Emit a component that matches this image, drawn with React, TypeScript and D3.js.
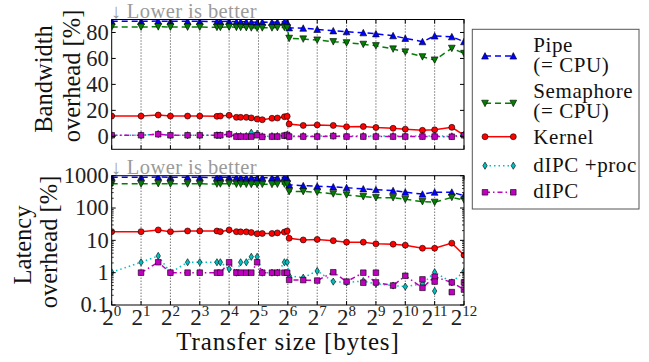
import React from "react";
import * as d3 from "d3";

// transfer sizes in bytes (x axis, log2)
const sizes = [1, 2, 3, 4, 6, 8, 12, 13, 16, 19, 21, 24, 27, 31, 35, 44, 50, 59, 63, 66, 92, 128, 187, 256, 380, 512, 768, 1024, 1536, 2048, 3072, 4096];

// bandwidth overhead [%]
const pipeBw = [88.6, 88.6, 88.8, 88.6, 88.6, 88.6, 88.4, 88.4, 88.6, 88.2, 88.2, 88.2, 88.0, 87.8, 88.0, 87.8, 88.0, 88.2, 87.8, 83.6, 83.3, 82.4, 81.3, 80.6, 79.8, 79.0, 77.5, 75.5, 72.9, 77.3, 76.7, 72.9];
const semBw = [84.2, 84.2, 84.4, 84.2, 84.2, 84.2, 84.0, 84.0, 84.2, 84.0, 84.0, 83.8, 83.6, 83.4, 83.6, 83.6, 83.8, 84.0, 83.6, 75.5, 75.0, 74.2, 72.9, 72.1, 70.9, 69.8, 67.3, 65.0, 61.3, 58.8, 67.8, 63.9];
const kernelBw = [15.6, 15.6, 16.4, 15.6, 15.6, 15.6, 15.4, 15.6, 16.2, 14.6, 14.6, 14.6, 14.2, 13.3, 12.8, 13.9, 14.1, 15.1, 15.4, 9.5, 8.4, 8.8, 8.4, 7.4, 7.5, 6.8, 6.2, 5.5, 4.6, 5.0, 6.9, 1.0];
const procBw = [0.8, 0.8, 1.8, 0.8, 0.8, 0.8, 0.8, 0.8, 1.8, 0.2, 0.2, 0.2, 2.8, 2.0, 0.0, 0.2, 0.2, 0.6, 1.2, 0.2, 0.2, 0.2, 0.4, 0.2, 0.2, 0.2, 0.2, 0.2, 0.2, 0.4, 0.0, 1.2];
const dipcBw = [0.8, 0.8, 1.6, 0.8, 0.8, 0.8, 0.8, 0.8, 1.6, -0.2, -0.2, -0.2, -0.2, 0.8, -0.4, -0.2, -0.2, 0.5, 1.0, -0.2, -0.2, -0.2, 0.2, -0.2, -0.2, -0.2, -0.2, -0.2, -0.2, -0.2, -0.3, 0.8];

// latency overhead [%]
const pipeLat = [900, 890, 910, 890, 900, 890, 880, 890, 900, 880, 880, 870, 870, 860, 870, 860, 870, 880, 830, 520, 490, 473, 450, 426, 390, 370, 345, 309, 269, 309, 309, 240];
const semLat = [560, 560, 570, 560, 560, 560, 555, 560, 565, 550, 550, 545, 540, 540, 545, 540, 550, 555, 560, 325, 325, 309, 275, 255, 225, 209, 209, 186, 158, 151, 214, 178];
const kernelLat = [18.6, 18.6, 21, 18.6, 19.5, 19.5, 19.5, 18.6, 21, 18.6, 18.3, 18.3, 17.5, 16, 16.3, 16.3, 17, 18, 19.5, 11.6, 10.3, 10.7, 9.8, 8.8, 8.8, 7.8, 7.6, 7.1, 5.7, 5.7, 8.2, 3.5];
const procLat = [1.03, 2.1, 3.3, 1.0, 2.1, 2.1, 2.1, 2.1, 1.3, 1.0, 2.1, 2.1, 3.1, 3.1, 1.0, 1.0, 1.0, 2.1, 2.1, 0.8, 0.7, 1.13, 0.53, 0.5, 0.55, 0.45, 0.4, 0.37, 0.45, 1.03, 0.5, 1.1];
const dipcLat = [null, 1.0, 2.1, 1.0, 1.0, 1.0, 1.0, 1.0, 2.1, 1.0, 1.0, 1.0, 1.0, 2.1, 1.0, 1.0, 1.0, 1.0, 1.0, 0.6, 0.59, 0.57, 1.03, 0.53, 1.0, 0.5, 0.4, 0.8, 0.34, 0.75, 0.5, 0.3];
// repeated measurements (markers only)
const dipcLatExtra: [number, number][] = [[380, 0.49], [512, 1.0], [1536, 0.62], [2048, 0.53], [3072, 0.25], [4096, 0.5]];
const procLatExtra: [number, number][] = [[2048, 0.27]];

const bwTicks = [0, 20, 40, 60, 80];
const latTicks = [0.1, 1, 10, 100, 1000];
const xExps = [0, 1, 2, 3, 4, 5, 6, 7, 8, 9, 10, 11, 12];

const series = [
  { key: "pipe", label: ["Pipe", "(= CPU)"], color: "#0000ff", dash: "6,4", marker: "up", bw: pipeBw, lat: pipeLat, extra: [] as [number, number][] },
  { key: "sem", label: ["Semaphore", "(= CPU)"], color: "#007f00", dash: "6,4", marker: "down", bw: semBw, lat: semLat, extra: [] as [number, number][] },
  { key: "kernel", label: ["Kernel"], color: "#ff0000", dash: "none", marker: "circle", bw: kernelBw, lat: kernelLat, extra: [] as [number, number][] },
  { key: "proc", label: ["dIPC +proc"], color: "#00bfbf", dash: "1.5,3", marker: "diamond", bw: procBw, lat: procLat, extra: procLatExtra },
  { key: "dipc", label: ["dIPC"], color: "#bf00bf", dash: "5,3,1.5,3", marker: "square", bw: dipcBw, lat: dipcLat, extra: dipcLatExtra },
];

// a global rule may override inherited fonts, so set it on every text
const TF = { fontFamily: '"Liberation Serif", "Times New Roman", serif' };
const W = 649;
const H = 362;
const L = 111.7;
const R = 464;
const top1 = 19.5, bot1 = 149.3;
const top2 = 175.7, bot2 = 305;

const x = d3.scaleLog().base(2).domain([1, 4096]).range([L, R]);
const yBw = d3.scaleLinear().domain([-10, 90]).range([bot1, top1]);
const yLat = d3.scaleLog().domain([0.1, 1000]).range([bot2, top2]);

function markerPath(kind: string) {
  switch (kind) {
    case "up": return "M0,-3.4L3.4,3.1L-3.4,3.1Z";
    case "down": return "M0,3.4L3.4,-3.1L-3.4,-3.1Z";
    case "circle": return "M3,0A3,3 0 1 1 -3,0A3,3 0 1 1 3,0Z";
    case "square": return "M-2.8,-2.8H2.8V2.8H-2.8Z";
    default: return "M0,-3.6L2.2,0L0,3.6L-2.2,0Z";
  }
}

type S = typeof series[number];

function Panel({ yScale, field, top, bottom, clipId, isLog }: { yScale: any; field: "bw" | "lat"; top: number; bottom: number; clipId: string; isLog: boolean }) {
  const minor: number[] = [];
  if (isLog) {
    for (let d = 0.1; d < 1000; d *= 10) for (let k = 2; k <= 9; k++) minor.push(+(d * k).toPrecision(3));
  }
  const yTicks = isLog ? latTicks : bwTicks;
  return (
    <g>
      <defs>
        <clipPath id={clipId}>
          <rect x={L} y={top} width={R - L} height={bottom - top} />
        </clipPath>
      </defs>
      <rect x={L} y={top} width={R - L} height={bottom - top} fill="#fff" />
      {/* vertical dotted grid */}
      {xExps.slice(1, -1).map((e) => (
        <line key={e} x1={x(2 ** e)} x2={x(2 ** e)} y1={top} y2={bottom} stroke="#000" strokeWidth={0.8} strokeDasharray="1,2" />
      ))}
      <g clipPath={`url(#${clipId})`}>
        {series.map((s: S) => {
          const vals = s[field] as (number | null)[];
          const pts = sizes.map((sz, i) => [sz, vals[i]] as [number, number | null]);
          const line = d3
            .line<[number, number | null]>()
            .defined((d) => d[1] != null)
            .x((d) => x(d[0]))
            .y((d) => yScale(d[1] as number));
          const extra = field === "lat" ? s.extra : [];
          return (
            <g key={s.key}>
              <path d={line(pts) || ""} fill="none" stroke={s.color} strokeWidth={1.5} strokeDasharray={s.dash} />
              {pts.filter((d) => d[1] != null).concat(extra).map((d, i) => (
                <path key={i} d={markerPath(s.marker)} transform={`translate(${x(d[0])},${yScale(d[1] as number)})`} fill={s.color} stroke="#000" strokeWidth={0.6} />
              ))}
            </g>
          );
        })}
      </g>
      <rect x={L} y={top} width={R - L} height={bottom - top} fill="none" stroke="#000" strokeWidth={1} />
      {/* x ticks top & bottom */}
      {xExps.map((e) => (
        <g key={e}>
          <line x1={x(2 ** e)} x2={x(2 ** e)} y1={bottom} y2={bottom - 4} stroke="#000" />
          <line x1={x(2 ** e)} x2={x(2 ** e)} y1={top} y2={top + 4} stroke="#000" />
        </g>
      ))}
      {/* y ticks left & right */}
      {yTicks.map((t) => (
        <g key={t}>
          <line x1={L} x2={L + 4} y1={yScale(t)} y2={yScale(t)} stroke="#000" />
          <line x1={R} x2={R - 4} y1={yScale(t)} y2={yScale(t)} stroke="#000" />
          <text x={L - 3} y={yScale(t)} dy="0.33em" textAnchor="end" fontSize={22.5} fill="#222" style={TF}>
            {t}
          </text>
        </g>
      ))}
      {minor.map((t) => (
        <g key={t}>
          <line x1={L} x2={L + 2} y1={yScale(t)} y2={yScale(t)} stroke="#000" strokeWidth={0.8} />
          <line x1={R} x2={R - 2} y1={yScale(t)} y2={yScale(t)} stroke="#000" strokeWidth={0.8} />
        </g>
      ))}
      <text x={L - 1} y={top - 2} fontSize={20.5} fill="#9a9a9a" letterSpacing={0.4} style={TF}>
        ↓ Lower is better
      </text>
    </g>
  );
}

function Legend() {
  const bx = 472.3, by = 29.3, bw = 166.7, bh = 179.7;
  const rows = [
    { y: 56, texts: [51.7, 71.7] },
    { y: 103.3, texts: [98.3, 118.3] },
    { y: 136.7, texts: [144] },
    { y: 165.7, texts: [171.5] },
    { y: 192.3, texts: [198.3] },
  ];
  return (
    <g>
      <rect x={bx} y={by} width={bw} height={bh} fill="#fff" stroke="#555" strokeWidth={1} />
      {series.map((s, i) => (
        <g key={s.key}>
          <line x1={485} x2={513.3} y1={rows[i].y} y2={rows[i].y} stroke={s.color} strokeWidth={1.5} strokeDasharray={s.dash} />
          {[485, 513.3].map((mx) => (
            <path key={mx} d={markerPath(s.marker)} transform={`translate(${mx},${rows[i].y})`} fill={s.color} stroke="#000" strokeWidth={0.6} />
          ))}
          {s.label.map((t, j) => (
            <text key={j} x={533.3} y={rows[i].texts[j]} fontSize={21} fill="#111" letterSpacing={0.6} style={TF}>
              {t}
            </text>
          ))}
        </g>
      ))}
    </g>
  );
}

export default function App() {
  return (
    <svg width={W} height={H} viewBox={`0 0 ${W} ${H}`} style={{ position: "absolute", left: 0, top: 0, background: "#fff" }}>
      <rect width={W} height={H} fill="#fff" />
      <Panel yScale={yBw} field="bw" top={top1} bottom={bot1} clipId="clipBw" isLog={false} />
      <Panel yScale={yLat} field="lat" top={top2} bottom={bot2} clipId="clipLat" isLog={true} />
      {/* x tick labels */}
      {xExps.map((e) => (
        <text key={e} x={x(2 ** e)} y={325} textAnchor="middle" fontSize={23} fill="#222" style={TF}>
          <tspan style={TF}>2</tspan>
          <tspan dy={-9} fontSize={15} style={TF}>{e}</tspan>
        </text>
      ))}
      <text x={288} y={350} textAnchor="middle" fontSize={25} fill="#111" letterSpacing={0.9} style={TF}>
        Transfer size [bytes]
      </text>
      <g transform="rotate(-90)" fontSize={24.5} fill="#111" textAnchor="middle">
        <text x={-79} y={52} style={TF}>Bandwidth</text>
        <text x={-76} y={80} style={TF}>overhead [%]</text>
        <text x={-245} y={31} style={TF}>Latency</text>
        <text x={-242} y={57} style={TF}>overhead [%]</text>
      </g>
      <Legend />
    </svg>
  );
}
